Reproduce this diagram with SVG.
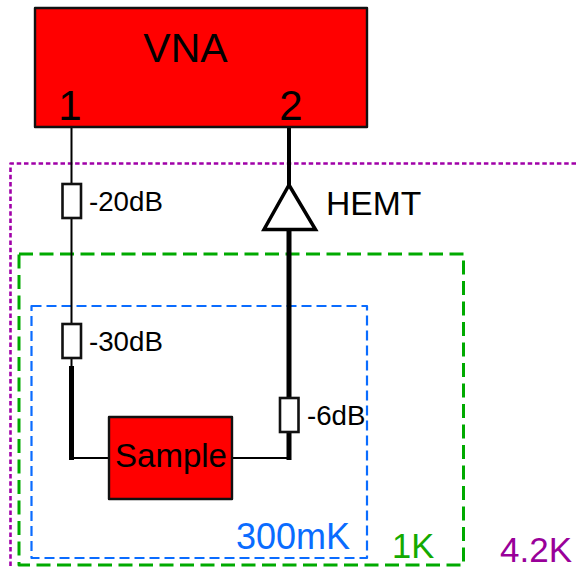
<svg xmlns="http://www.w3.org/2000/svg" width="576" height="569" viewBox="0 0 576 569">
<style>
text{font-family:"Liberation Sans",Arial,sans-serif;fill:#000}
.box{fill:#f00;stroke:#111;stroke-width:2.400;stroke-linejoin:round}
.att{fill:#fff;stroke:#111;stroke-width:2.600}
.w{fill:none;stroke:#000;stroke-linecap:butt}
.z{fill:none;stroke-linejoin:round}
</style>
<rect width="576" height="569" fill="#fff"/>
<g id="zones">
<path id="zone-4k" class="z" d="M576 163.500H10.500V569" stroke="#a000a8" stroke-width="2.600" stroke-dasharray="4.500 2.800"/>
<rect id="zone-1k" class="z" x="19" y="254" width="444.500" height="311" stroke="#00aa00" stroke-width="3" stroke-dasharray="14 6.500"/>
<rect id="zone-300mk" class="z" x="31.500" y="306" width="335.500" height="252" stroke="#0a6cff" stroke-width="2.200" stroke-dasharray="10 5"/>
</g>
<g id="connectors">
<path class="w" stroke-width="2" d="M71.500 127V324M71.500 358V366M72 458H109M232 458H289"/>
<path class="w" stroke-width="5" d="M71.500 366V460"/>
<path class="w" stroke-width="4" d="M289 127V186"/>
<path class="w" stroke-width="5" d="M289 229V398M289 432V460"/>
</g>
<g id="vna"><rect class="box" x="35" y="8" width="332" height="119"/>
<text x="185.500" y="62" font-size="41" text-anchor="middle">VNA</text>
<text x="70" y="120" font-size="42" text-anchor="middle">1</text>
<text x="291" y="120" font-size="42" text-anchor="middle">2</text></g>
<g id="att-20"><rect class="att" x="62.500" y="184" width="18.500" height="34"/><text x="89" y="211" font-size="27.700">-20dB</text></g>
<g id="att-30"><rect class="att" x="62.500" y="324" width="18.500" height="34"/><text x="89" y="351" font-size="27.700">-30dB</text></g>
<g id="att-6"><rect class="att" x="280" y="398" width="18.500" height="34"/><text x="307" y="425" font-size="27.700">-6dB</text></g>
<g id="hemt"><path d="M289 185L315.500 229.500H264Z" fill="#fff" stroke="#000" stroke-width="3.500" stroke-linejoin="miter"/><text x="326" y="215" font-size="33.700">HEMT</text></g>
<g id="sample"><rect class="box" x="109" y="417" width="123" height="82"/><text x="171" y="467" font-size="33" text-anchor="middle">Sample</text></g>
<text x="236" y="549" font-size="36" style="fill:#0a6cff">300mK</text>
<text x="392" y="558" font-size="34.500" style="fill:#14aa00">1K</text>
<text x="500" y="562" font-size="35" style="fill:#990099">4.2K</text>
</svg>
